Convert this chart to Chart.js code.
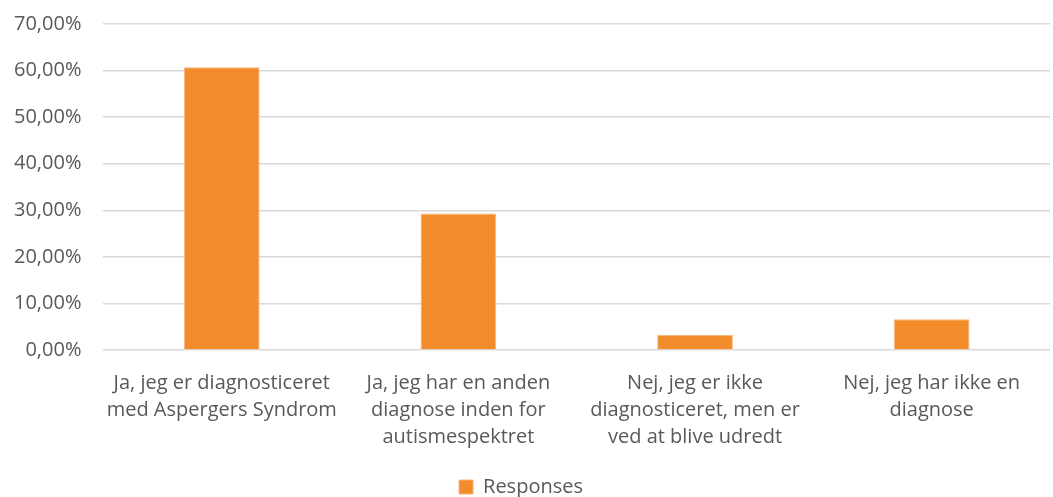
<!DOCTYPE html>
<html>
<head>
<meta charset="utf-8">
<script src="https://cdn.jsdelivr.net/npm/chart.js@4"></script>
<style>
  html, body { margin: 0; padding: 0; background: #fff; }
  #wrap { width: 1053px; height: 497px; }
</style>
</head>
<body>
<div id="wrap"><canvas id="chart" width="1053" height="497"></canvas></div>
<script>
// Kategorier (svarmuligheder), delt i linjer som i originalen
const categories = [
  ['Ja, jeg er diagnosticeret', 'med Aspergers Syndrom'],
  ['Ja, jeg har en anden', 'diagnose inden for', 'autismespektret'],
  ['Nej, jeg er ikke', 'diagnosticeret, men er', 'ved at blive udredt'],
  ['Nej, jeg har ikke en', 'diagnose']
];
const responses = [60.7, 29.3, 3.3, 6.6];
const seriesName = 'Responses';

const fontFamily = '"Open Sans", sans-serif';
const textColor = '#595959';

new Chart(document.getElementById('chart'), {
  type: 'bar',
  data: {
    labels: categories,
    datasets: [{
      label: seriesName,
      data: responses,
      backgroundColor: '#f28b29',
      borderColor: '#f7b57a',
      borderWidth: 1,
      barPercentage: 0.32,
      categoryPercentage: 1.0
    }]
  },
  options: {
    responsive: false,
    animation: false,
    layout: { padding: { top: 24, right: 3, left: -8, bottom: -10 } },
    plugins: {
      legend: {
        position: 'bottom',
        labels: {
          color: textColor,
          font: { family: fontFamily, size: 20 },
          boxWidth: 14,
          boxHeight: 14,
          padding: 0
        }
      },
      tooltip: { enabled: false }
    },
    scales: {
      x: {
        grid: { display: false },
        border: { display: false },
        ticks: {
          color: textColor,
          font: { family: fontFamily, size: 20, lineHeight: 1.35 },
          maxRotation: 0,
          autoSkip: false,
          padding: 12
        },
        // ekstra luft mellem kategorietiketter og forklaring
        afterFit: (scale) => { scale.height += 14; }
      },
      y: {
        min: 0,
        max: 70,
        grid: { color: '#d9d9d9', lineWidth: 1.5, drawTicks: false },
        border: { display: false },
        ticks: {
          stepSize: 10,
          color: textColor,
          font: { family: fontFamily, size: 20 },
          padding: 22,
          callback: (v) => v.toFixed(2).replace('.', ',') + '%'
        },
        // øverste gitterlinje tættere på kanten
        afterFit: (scale) => { scale.paddingTop = 0; }
      }
    }
  }
});
</script>
</body>
</html>
